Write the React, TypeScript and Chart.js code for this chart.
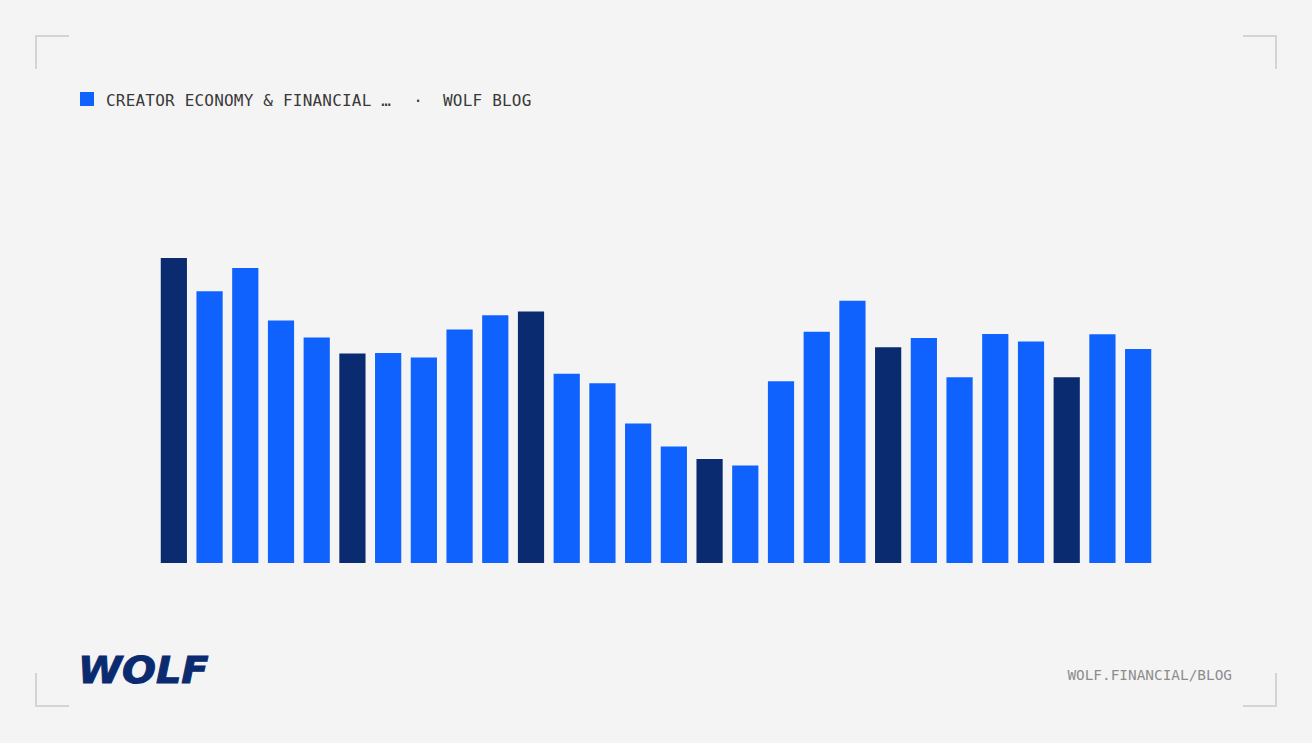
import React, { useEffect, useRef } from "react";
import { Chart, registerables } from "chart.js";

Chart.register(...registerables);

const categories: string[] = [
  "1", "2", "3", "4", "5", "6", "7", "8", "9", "10", "11", "12", "13", "14",
  "15", "16", "17", "18", "19", "20", "21", "22", "23", "24", "25", "26", "27", "28",
];

const values: number[] = [
  101.6, 90.6, 98.3, 80.9, 75.2, 69.9, 70.1, 68.6, 77.9, 82.6, 83.9, 63.2, 60.0, 46.7,
  39.0, 34.9, 32.7, 60.7, 77.1, 87.4, 72.0, 75.1, 62.0, 76.4, 73.9, 62.0, 76.3, 71.4,
];

// highlighted bars (dark navy)
const highlighted: number[] = [0, 5, 10, 15, 20, 25];

const Y_MAX = 139.5;

const BLUE = "#0f62fe";
const NAVY = "#0a2b6f";
const BG = "#f4f4f4";
const CORNER = "#d4d4d4";

function Corner({ pos }: { pos: "tl" | "tr" | "bl" | "br" }) {
  const size = 34;
  const t = 2;
  const base: React.CSSProperties = { position: "absolute", width: size, height: size, boxSizing: "border-box" };
  const s: React.CSSProperties = { ...base };
  if (pos === "tl") { s.left = 35; s.top = 35; s.borderTop = `${t}px solid ${CORNER}`; s.borderLeft = `${t}px solid ${CORNER}`; }
  if (pos === "tr") { s.right = 35; s.top = 35; s.borderTop = `${t}px solid ${CORNER}`; s.borderRight = `${t}px solid ${CORNER}`; }
  if (pos === "bl") { s.left = 35; s.bottom = 36; s.borderBottom = `${t}px solid ${CORNER}`; s.borderLeft = `${t}px solid ${CORNER}`; }
  if (pos === "br") { s.right = 35; s.bottom = 36; s.borderBottom = `${t}px solid ${CORNER}`; s.borderRight = `${t}px solid ${CORNER}`; }
  return <div style={s} />;
}

export default function App() {
  const canvasRef = useRef<HTMLCanvasElement | null>(null);

  useEffect(() => {
    document.body.style.margin = "0";
    document.body.style.background = BG;
    if (!canvasRef.current) return;
    const colors = values.map((_, i) => (highlighted.includes(i) ? NAVY : BLUE));
    const chart = new Chart(canvasRef.current, {
      type: "bar",
      data: {
        labels: categories,
        datasets: [
          {
            data: values,
            backgroundColor: colors,
            borderColor: "rgba(255,255,255,0.22)",
            borderWidth: 1,
            borderSkipped: "bottom",
            categoryPercentage: 1,
            barPercentage: 0.79,
          },
        ],
      },
      options: {
        animation: false,
        responsive: true,
        maintainAspectRatio: false,
        layout: { padding: 0 },
        plugins: { legend: { display: false }, tooltip: { enabled: false } },
        scales: {
          x: { display: false, offset: true, grid: { display: false } },
          y: { display: false, min: 0, max: Y_MAX, grid: { display: false } },
        },
      },
    });
    return () => chart.destroy();
  }, []);

  const mono = "'DejaVu Sans Mono', 'Liberation Mono', monospace";

  return (
    <div style={{ position: "absolute", left: 0, top: 0, width: 1312, height: 743, background: BG, overflow: "hidden" }}>
      <Corner pos="tl" />
      <Corner pos="tr" />
      <Corner pos="bl" />
      <Corner pos="br" />

      <div style={{ position: "absolute", left: 80, top: 92, width: 14, height: 14, background: BLUE }} />
      <div style={{ position: "absolute", left: 106, top: 93, fontFamily: mono, fontSize: 16, lineHeight: "16px", letterSpacing: 0.2, color: "#393939", whiteSpace: "nowrap" }}>
        CREATOR ECONOMY &amp; FINANCIAL …
      </div>
      <div style={{ position: "absolute", left: 408, width: 20, textAlign: "center", top: 93, fontFamily: mono, fontSize: 16, lineHeight: "16px", color: "#393939" }}>
        ·
      </div>
      <div style={{ position: "absolute", left: 443, top: 93, fontFamily: mono, fontSize: 16, lineHeight: "16px", letterSpacing: 0.2, color: "#393939", whiteSpace: "nowrap" }}>
        WOLF BLOG
      </div>

      <div style={{ position: "absolute", left: 155.6, top: 143, width: 1000, height: 420 }}>
        <canvas ref={canvasRef} />
      </div>

      <div style={{ position: "absolute", left: 78, top: 648, fontFamily: "'DejaVu Sans', sans-serif", fontWeight: 700, fontStyle: "oblique", fontSize: 38, lineHeight: "44px", color: NAVY, letterSpacing: 0, transform: "scaleX(1.05)", transformOrigin: "left center", WebkitTextStroke: `1px ${NAVY}`, whiteSpace: "nowrap" }}>
        WOLF
      </div>

      <div style={{ position: "absolute", right: 80, top: 667, fontFamily: mono, fontSize: 14.4, lineHeight: "16px", color: "#8d8d8d", whiteSpace: "nowrap" }}>
        WOLF.FINANCIAL/BLOG
      </div>
    </div>
  );
}
